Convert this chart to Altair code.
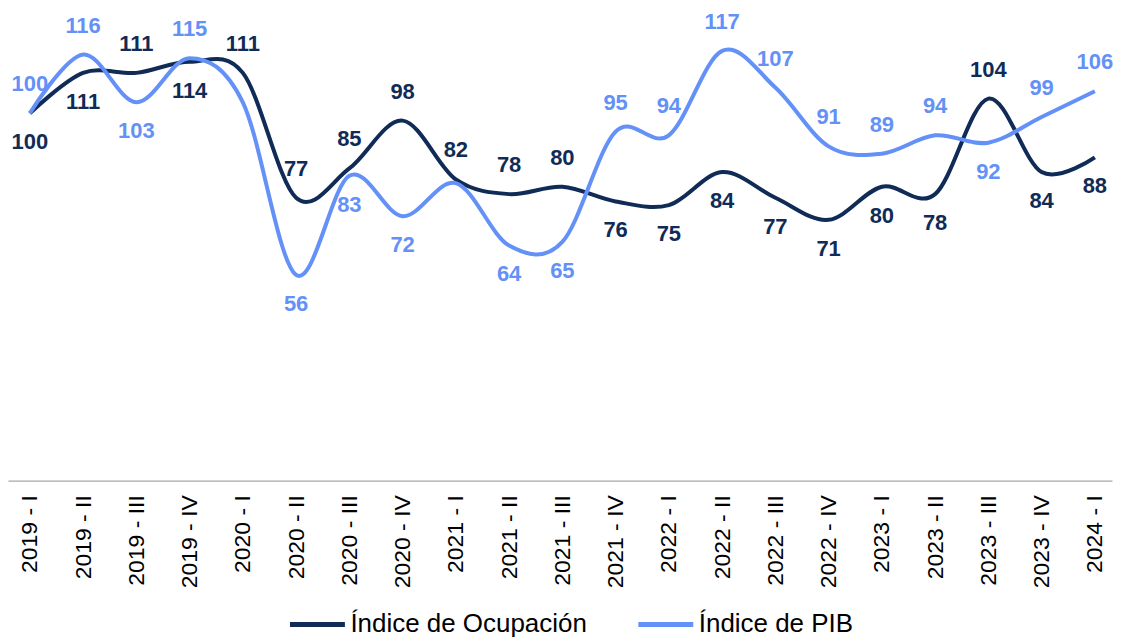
import altair as alt
import pandas as pd

quarters = [
    "2019 - I", "2019 - II", "2019 - III", "2019 - IV",
    "2020 - I", "2020 - II", "2020 - III", "2020 - IV",
    "2021 - I", "2021 - II", "2021 - III", "2021 - IV",
    "2022 - I", "2022 - II", "2022 - III", "2022 - IV",
    "2023 - I", "2023 - II", "2023 - III", "2023 - IV",
    "2024 - I",
]
ocupacion = [100, 111, 111, 114, 111, 77, 85, 98, 82, 78, 80, 76, 75, 84, 77, 71, 80, 78, 104, 84, 88]
pib = [100, 116, 103, 115, 103, 56, 83, 72, 81, 64, 65, 95, 94, 117, 107, 91, 89, 94, 92, 99, 106]
# label placement: a = above, b = below, n = no label
ocup_pos = ["b", "b", "a", "b", "a", "a", "a", "a", "a", "a", "a", "b", "b", "b", "b", "b", "b", "b", "a", "b", "b"]
pib_pos = ["a", "a", "b", "a", "n", "b", "b", "b", "n", "b", "b", "a", "a", "a", "a", "a", "a", "a", "b", "a", "a"]

series = ["Índice de Ocupación", "Índice de PIB"]
colors = ["#0f2b56", "#6391f7"]

rows = []
for q, v, p in zip(quarters, ocupacion, ocup_pos):
    rows.append({"trimestre": q, "valor": v, "serie": series[0], "pos": p})
for q, v, p in zip(quarters, pib, pib_pos):
    rows.append({"trimestre": q, "valor": v, "serie": series[1], "pos": p})
df = pd.DataFrame(rows)

FONT = "Liberation Sans"

base = alt.Chart(df).encode(
    x=alt.X(
        "trimestre:N",
        sort=quarters,
        scale=alt.Scale(type="point", padding=0.366, align=0.56),
        axis=alt.Axis(
            title=None,
            labelAngle=-90,
            labelFont=FONT,
            labelFontSize=23,
            labelColor="black",
            labelPadding=14,
            ticks=False,
            grid=False,
            domainColor="#a6a6a6",
            domainWidth=1.3,
        ),
    ),
    y=alt.Y("valor:Q", scale=alt.Scale(domain=[0, 128.5]), axis=None),
)

color_scale = alt.Scale(domain=series, range=colors)

line = base.mark_line(interpolate="cardinal", strokeWidth=4).encode(
    color=alt.Color(
        "serie:N",
        sort=series,
        scale=color_scale,
        legend=alt.Legend(
            title=None,
            orient="none",
            legendX=280,
            legendY=587,
            direction="horizontal",
            symbolType="stroke",
            symbolSize=3025,
            symbolStrokeWidth=5,
            labelFont=FONT,
            labelFontSize=26,
            labelColor="black",
            labelLimit=400,
            labelOffset=3,
            columnPadding=40,
            padding=0,
        ),
    )
)

text_style = dict(fontSize=22, fontWeight="bold", font=FONT, baseline="middle", align="center")

text_above = base.transform_filter(alt.datum.pos == "a").mark_text(dy=-29, **text_style).encode(
    text="valor:Q",
    color=alt.Color("serie:N", scale=color_scale, legend=None),
)
text_below = base.transform_filter(alt.datum.pos == "b").mark_text(dy=29, **text_style).encode(
    text="valor:Q",
    color=alt.Color("serie:N", scale=color_scale, legend=None),
)

chart = (
    alt.layer(line, text_above, text_below)
    .properties(width=1106, height=473, padding=0, background="white")
    .configure_view(stroke=None)
)

chart.save("out.html", embed_options={"renderer": "svg", "actions": False})
